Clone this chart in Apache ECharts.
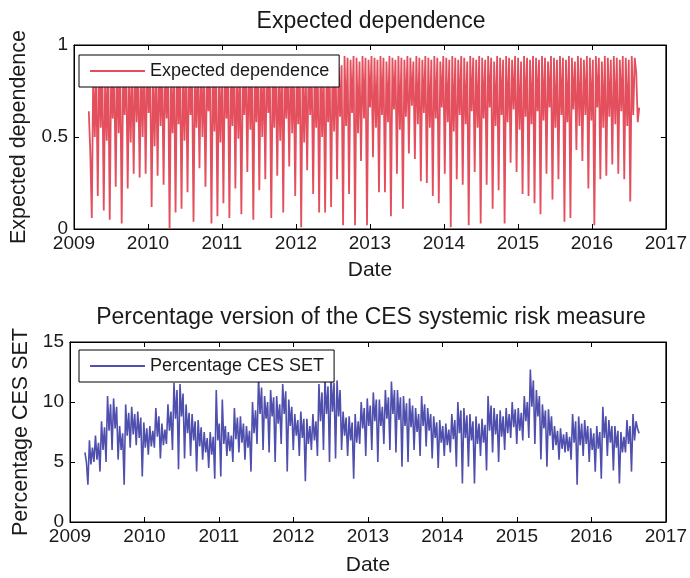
<!DOCTYPE html>
<html>
<head>
<meta charset="utf-8">
<script src="https://cdn.jsdelivr.net/npm/echarts@6/dist/echarts.min.js"></script>
<style>
html,body{margin:0;padding:0;background:#fff;}
#chart{width:690px;height:578px;}
</style>
</head>
<body>
<div id="chart"></div>
<script>
// ---- data ----
const yearTicks = [2009, 2010, 2011, 2012, 2013, 2014, 2015, 2016, 2017];
const dateStart = 2009.2;
const dateEnd = 2016.64;

const expectedDependence = [
0.64,0.42,
0.06,0.88,0.50,0.85, 0.18,0.92,0.55,0.90, 0.10,0.87,0.48,0.91, 0.05,0.90,0.60,0.86,
0.23,0.93,0.52,0.88, 0.03,0.89,0.62,0.92, 0.22,0.86,0.47,0.90, 0.30,0.91,0.58,0.87,
0.28,0.88,0.50,0.93, 0.30,0.92,0.63,0.89, 0.12,0.87,0.45,0.90, 0.29,0.93,0.56,0.88,
0.24,0.90,0.60,0.91, 0.00,0.86,0.52,0.89, 0.09,0.92,0.57,0.87, 0.11,0.89,0.48,0.93,
0.20,0.91,0.62,0.88, 0.04,0.87,0.55,0.90, 0.33,0.93,0.50,0.86, 0.23,0.88,0.64,0.92,
0.03,0.90,0.53,0.89, 0.07,0.86,0.47,0.91, 0.14,0.92,0.60,0.88, 0.06,0.89,0.56,0.93,
0.22,0.91,0.49,0.87, 0.08,0.87,0.62,0.90, 0.31,0.93,0.54,0.88, 0.05,0.88,0.58,0.92,
0.21,0.90,0.50,0.89, 0.27,0.92,0.63,0.87, 0.06,0.89,0.55,0.91, 0.29,0.87,0.48,0.93,
0.09,0.91,0.60,0.88, 0.34,0.93,0.52,0.90, 0.18,0.88,0.57,0.92, 0.01,0.90,0.47,0.87,
0.32,0.92,0.62,0.89, 0.19,0.87,0.55,0.93, 0.09,0.91,0.50,0.88, 0.09,0.89,0.58,0.90,
0.12,0.93,0.53,0.92, 0.27,0.88,0.61,0.89, 0.02,0.94,0.56,0.93, 0.19,0.92,0.63,0.94,
0.02,0.93,0.52,0.91, 0.37,0.94,0.60,0.93, 0.02,0.92,0.66,0.94, 0.39,0.93,0.55,0.92,
0.20,0.94,0.62,0.93, 0.20,0.91,0.58,0.94, 0.07,0.93,0.65,0.92, 0.30,0.94,0.54,0.93,
0.11,0.92,0.61,0.94, 0.41,0.93,0.67,0.91, 0.38,0.94,0.57,0.93, 0.26,0.92,0.63,0.94,
0.25,0.93,0.55,0.92, 0.18,0.94,0.60,0.93, 0.14,0.91,0.66,0.94, 0.30,0.93,0.58,0.92,
0.01,0.94,0.53,0.93, 0.27,0.92,0.62,0.94, 0.24,0.93,0.57,0.91, 0.02,0.94,0.64,0.93,
0.31,0.92,0.55,0.94, 0.03,0.93,0.60,0.92, 0.24,0.94,0.66,0.93, 0.11,0.91,0.56,0.94,
0.21,0.93,0.62,0.92, 0.03,0.94,0.58,0.93, 0.36,0.92,0.65,0.94, 0.31,0.93,0.54,0.91,
0.19,0.94,0.61,0.93, 0.18,0.92,0.57,0.94, 0.14,0.93,0.64,0.92, 0.08,0.94,0.59,0.93,
0.30,0.91,0.66,0.94, 0.16,0.93,0.55,0.92, 0.27,0.94,0.62,0.93, 0.04,0.92,0.58,0.94,
0.06,0.93,0.65,0.91, 0.43,0.94,0.56,0.93, 0.37,0.92,0.62,0.94, 0.22,0.93,0.59,0.92,
0.02,0.94,0.66,0.93, 0.27,0.91,0.55,0.94, 0.29,0.93,0.61,0.92, 0.35,0.94,0.57,0.93,
0.30,0.92,0.64,0.94, 0.27,0.93,0.56,0.92, 0.15,0.94,0.62,0.93,
0.85,0.58,0.66
];

const percentageCES = [
5.8,5.0,
3.1,6.8,4.8,6.2, 5.0,7.2,5.2,6.6, 4.2,8.4,6.0,7.9, 5.0,10.5,7.6,9.8,
6.0,10.3,7.8,9.6, 5.2,8.0,6.0,7.4, 3.1,9.8,7.2,9.1, 6.2,9.6,7.3,9.0,
6.4,9.2,7.0,8.7, 3.8,8.3,6.2,7.8, 5.6,8.0,6.3,7.6, 6.2,9.5,7.1,8.8,
5.3,8.2,6.4,7.7, 6.5,9.8,7.6,9.2, 6.0,11.6,8.6,11.0, 4.4,11.5,8.8,10.7,
5.3,9.8,7.4,9.1, 5.5,9.0,6.8,8.4, 4.2,8.5,6.3,7.9, 5.2,7.5,5.8,7.0,
4.5,7.5,5.6,7.1, 3.6,11.0,6.8,8.2, 3.8,10.2,6.5,8.0, 5.5,7.5,5.9,7.2,
5.0,9.5,6.9,8.7, 5.8,8.8,6.6,8.2, 5.2,8.0,6.2,7.6, 4.2,10.0,7.4,9.3,
6.5,12.0,9.0,11.2, 6.0,10.5,8.6,10.0, 5.8,11.0,8.8,10.4, 5.0,10.5,8.2,9.8,
6.5,11.5,9.0,10.9, 4.2,10.2,8.0,9.6, 6.0,9.0,7.2,8.5, 5.5,9.2,7.0,8.6,
3.4,8.6,6.5,8.0, 6.0,9.0,6.8,8.4, 5.5,11.5,8.4,10.8, 6.0,12.0,9.0,11.3,
5.0,12.3,9.2,11.6, 5.3,11.8,8.8,11.0, 6.0,9.2,7.2,8.7, 5.5,8.8,6.8,8.3,
3.6,9.0,6.6,8.4, 6.5,10.0,7.8,9.5, 5.5,10.3,8.0,9.7, 6.0,10.8,8.4,10.2,
5.0,10.2,8.0,9.6, 6.5,11.0,8.6,10.4, 6.0,11.7,9.0,11.0, 5.8,11.0,8.5,10.4,
4.6,10.5,8.0,9.9, 5.0,10.3,7.9,9.7, 6.0,9.5,7.5,9.0, 5.5,10.5,8.0,9.8,
6.3,9.5,7.6,9.0, 5.3,8.8,7.0,8.3, 4.5,8.5,6.6,8.0, 5.5,8.2,6.4,7.7,
5.8,9.0,6.9,8.5, 4.6,10.0,7.4,9.3, 3.2,9.5,7.0,8.9, 4.6,9.0,6.8,8.4,
3.2,8.8,6.5,8.2, 5.5,8.6,6.6,8.1, 4.3,10.5,7.6,9.7, 5.8,9.5,7.3,9.0,
5.0,9.3,7.1,8.8, 6.0,9.5,7.4,9.0, 7.0,10.0,7.9,9.4, 6.5,9.5,7.6,9.1,
6.8,10.5,8.4,10.0, 7.0,12.7,9.6,11.8, 6.5,11.0,8.8,10.5, 5.2,9.8,7.8,9.3,
4.6,9.4,7.2,8.8, 6.0,8.0,6.4,7.6, 5.2,7.8,6.1,7.3, 5.8,7.5,5.9,7.1,
5.2,9.0,6.6,8.4, 3.1,8.8,6.4,8.2, 5.5,8.5,6.5,8.0, 5.0,7.8,6.0,7.4,
4.2,8.0,6.1,7.5, 3.6,9.6,7.0,8.8, 5.5,8.5,6.6,8.0, 4.3,8.0,6.2,7.6,
3.2,7.5,5.8,7.1, 5.8,8.5,6.5,8.0, 4.2,9.0,6.8,8.4,
7.8,7.4
];

// ---- build ----
function toPairs(vals) {
  const n = vals.length;
  return vals.map((v, i) => [dateStart + i * (dateEnd - dateStart) / (n - 1), v]);
}

const FONT = "'Liberation Sans', Arial, sans-serif";
const TXT = '#1a1a1a';
const RED = '#e44f5d';
const BLUE = '#4f4fae';

function xAxisPair(gi, nameGap) {
  return [
    {
      type: 'value', gridIndex: gi, min: 2009, max: 2017, interval: 1,
      name: 'Date', nameLocation: 'middle', nameGap: nameGap,
      nameTextStyle: { fontFamily: FONT, fontSize: 21, color: TXT },
      axisLine: { show: true, onZero: false, lineStyle: { color: '#000', width: 1 } },
      axisTick: { show: true, inside: true, length: 5, lineStyle: { color: '#000' } },
      axisLabel: { fontFamily: FONT, fontSize: 19, color: TXT, margin: 5,
        formatter: v => String(v) },
      splitLine: { show: false }
    },
    {
      type: 'value', gridIndex: gi, position: 'top', min: 2009, max: 2017, interval: 1,
      axisLine: { show: true, onZero: false, lineStyle: { color: '#000', width: 1 } },
      axisTick: { show: true, inside: true, length: 5, lineStyle: { color: '#000' } },
      axisLabel: { show: false }, splitLine: { show: false }
    }
  ];
}

function yAxisPair(gi, max, interval, name, nameGap) {
  return [
    {
      type: 'value', gridIndex: gi, min: 0, max: max, interval: interval,
      name: name, nameLocation: 'middle', nameGap: nameGap,
      nameTextStyle: { fontFamily: FONT, fontSize: 21.5, color: TXT },
      axisLine: { show: true, onZero: false, lineStyle: { color: '#000', width: 1 } },
      axisTick: { show: true, inside: true, length: 5, lineStyle: { color: '#000' } },
      axisLabel: { fontFamily: FONT, fontSize: 19, color: TXT, margin: 6 },
      splitLine: { show: false }
    },
    {
      type: 'value', gridIndex: gi, position: 'right', min: 0, max: max, interval: interval,
      axisLine: { show: true, onZero: false, lineStyle: { color: '#000', width: 1 } },
      axisTick: { show: true, inside: true, length: 5, lineStyle: { color: '#000' } },
      axisLabel: { show: false }, splitLine: { show: false }
    }
  ];
}

const legendBase = {
  orient: 'horizontal', icon: 'rect',
  padding: [7, 10, 7, 11], itemWidth: 55, itemHeight: 2, itemGap: 5,
  backgroundColor: '#fff', borderColor: '#000', borderWidth: 1, borderRadius: 0,
  textStyle: { fontFamily: FONT, fontSize: 18, color: TXT, padding: [0, 0, 0, 0], lineHeight: 18 }
};

const chart = echarts.init(document.getElementById('chart'));
chart.setOption({
  animation: false,
  backgroundColor: '#fff',
  title: [
    { text: 'Expected dependence', left: 371, top: 10, textAlign: 'center', padding: 0,
      textStyle: { fontFamily: FONT, fontSize: 23, fontWeight: 'normal', color: TXT } },
    { text: 'Percentage version of the CES systemic risk measure', left: 371, top: 306, textAlign: 'center', padding: 0,
      textStyle: { fontFamily: FONT, fontSize: 23, fontWeight: 'normal', color: TXT } }
  ],
  grid: [
    { left: 70, top: 45, width: 602, height: 184, show: true, borderColor: '#000', borderWidth: 1, backgroundColor: '#fff' },
    { left: 70, top: 342, width: 602, height: 180, show: true, borderColor: '#000', borderWidth: 1, backgroundColor: '#fff' }
  ],
  legend: [
    Object.assign({}, legendBase, { data: ['Expected dependence'], left: 79, top: 55 }),
    Object.assign({}, legendBase, { data: ['Percentage CES SET'], left: 79, top: 350 })
  ],
  xAxis: [...xAxisPair(0, 31), ...xAxisPair(1, 33)],
  yAxis: [...yAxisPair(0, 1, 0.5, 'Expected dependence', 44), ...yAxisPair(1, 15, 5, 'Percentage CES SET', 38)],
  series: [
    { name: 'Expected dependence', type: 'line', xAxisIndex: 0, yAxisIndex: 0,
      data: toPairs(expectedDependence), symbol: 'none', showSymbol: false,
      lineStyle: { color: RED, width: 1.8 }, itemStyle: { color: RED } },
    { name: 'Percentage CES SET', type: 'line', xAxisIndex: 2, yAxisIndex: 2,
      data: toPairs(percentageCES), symbol: 'none', showSymbol: false,
      lineStyle: { color: BLUE, width: 1.6 }, itemStyle: { color: BLUE } }
  ]
});
</script>
</body>
</html>
